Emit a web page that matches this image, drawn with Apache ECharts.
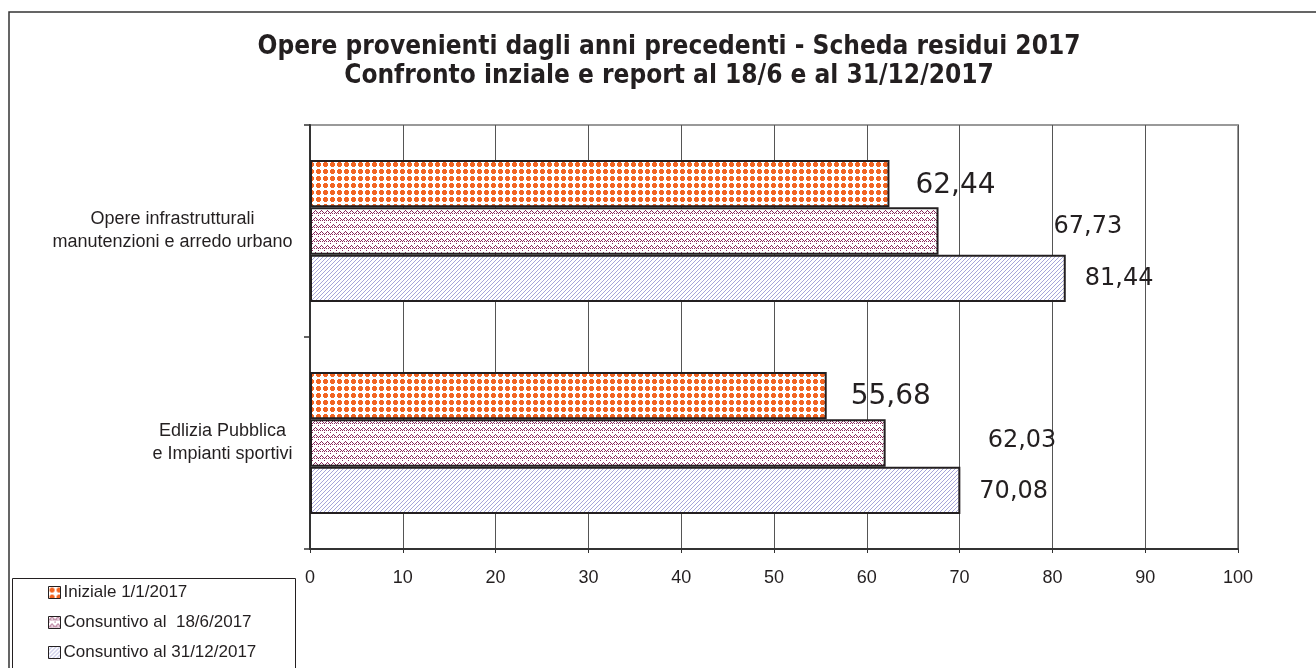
<!DOCTYPE html>
<html>
<head>
<meta charset="utf-8">
<script src="https://cdn.jsdelivr.net/npm/echarts@6/dist/echarts.min.js"></script>
<style>
  html, body { margin: 0; background: #fff; }
  #chart { width: 1316px; height: 668px; }
</style>
</head>
<body>
<div id="chart"></div>
<script>
// categories top to bottom
const categories = [
  'Opere infrastrutturali\nmanutenzioni e arredo urbano',
  'Edlizia Pubblica\ne Impianti sportivi'
]
const seriesNames = ['Iniziale 1/1/2017', 'Consuntivo al  18/6/2017', 'Consuntivo al 31/12/2017']
const iniziale = [62.44, 55.68]
const consuntivoGiugno = [67.73, 62.03]
const consuntivoDicembre = [81.44, 70.08]
const axisMin = 0
const axisMax = 100
const axisStep = 10

const ink = '#231f20'
const labelFont = 'Liberation Sans, Arial, sans-serif'

// small canvas tiles used as bar fills
const makeTile = (w, h, draw) => {
  const c = document.createElement('canvas')
  c.width = w
  c.height = h
  const g = c.getContext('2d')
  g.fillStyle = '#fff'
  g.fillRect(0, 0, w, h)
  draw(g)
  return c
}

const dots = makeTile(7, 7, g => {
  g.fillStyle = '#f26522'
  g.fillRect(2, 1, 3, 5)
  g.fillRect(1, 2, 5, 3)
})

const zigzag = makeTile(6, 7, g => {
  g.fillStyle = '#8b2a5c'
  const ys = [3, 2, 1, 0, 1, 2]
  ys.forEach((y, x) => {
    g.fillRect(x, y, 1, 1)
    if (x % 2 === 0) g.fillRect(x, y + 2, 1, 1)
  })
})

const hatch = makeTile(4, 4, g => {
  g.fillStyle = '#a6a6da'
  for (let x = 0; x < 4; x++) g.fillRect(x, 3 - x, 1, 1)
})

// width of the longest line of each category label, for centred lines in a right-aligned block
const measure = document.createElement('canvas').getContext('2d')
measure.font = '18px ' + labelFont
const labelWidths = categories.map(c =>
  Math.ceil(Math.max(...c.split('\n').map(l => measure.measureText(l).width)))
)
const rich = {}
labelWidths.forEach((w, i) => {
  rich['c' + i] = {
    width: w,
    align: 'center',
    fontSize: 18,
    lineHeight: 23,
    fontFamily: labelFont,
    color: ink
  }
})

const fmt = v => v.toFixed(2).replace('.', ',')

// label nudges per series / category
const labelPlace = [
  [{ d: 26, dy: 2 }, { d: 24, dy: 1 }],
  [{ d: 115, dy: -4 }, { d: 102, dy: -2 }],
  [{ d: 19, dy: 0 }, { d: 19, dy: 1 }]
]
const fills = [dots, zigzag, hatch]
const values = [iniziale, consuntivoGiugno, consuntivoDicembre]

const series = seriesNames.map((name, s) => ({
  name,
  type: 'bar',
  barGap: '0%',
  barCategoryGap: '33%',
  itemStyle: {
    color: { image: fills[s], repeat: 'repeat' },
    borderColor: ink,
    borderWidth: 2
  },
  label: {
    show: true,
    position: 'right',
    formatter: p => fmt(p.value),
    fontFamily: 'DejaVu Sans, Verdana, sans-serif',
    fontSize: s === 0 ? 28 : 24,
    color: ink
  },
  data: values[s].map((v, i) => ({
    value: v,
    label: { distance: labelPlace[s][i].d, offset: [0, labelPlace[s][i].dy] }
  }))
}))

const chart = echarts.init(document.getElementById('chart'))

const option = {
  animation: false,
  backgroundColor: '#fff',
  title: {
    text: 'Opere provenienti dagli anni precedenti - Scheda residui 2017\nConfronto inziale e report al 18/6 e al 31/12/2017',
    left: 669,
    top: 33,
    padding: 0,
    textAlign: 'center',
    textStyle: {
      fontFamily: 'DejaVu Sans Condensed, DejaVu Sans, sans-serif',
      fontWeight: 'bold',
      fontSize: 26,
      lineHeight: 29,
      color: ink
    }
  },
  graphic: [{
    type: 'rect',
    silent: true,
    z: -1,
    shape: { x: 9, y: 12, width: 1400, height: 700 },
    style: { fill: 'none', stroke: '#333', lineWidth: 1.5 }
  }, {
    // legend frame, runs off the bottom edge
    type: 'rect',
    silent: true,
    shape: { x: 12.5, y: 578.5, width: 283, height: 200 },
    style: { fill: 'none', stroke: ink, lineWidth: 1 }
  }],
  legend: {
    orient: 'vertical',
    left: 12,
    top: 578,
    padding: [6, 33, 0, 36],
    itemGap: 13,
    itemWidth: 12,
    itemHeight: 12,
    icon: 'rect',
    itemStyle: { borderWidth: 1 },
    textStyle: { fontFamily: labelFont, fontSize: 17, color: ink, padding: [0, 0, 0, -2] },
    data: seriesNames
  },
  grid: {
    left: 310,
    right: 78,
    top: 125,
    bottom: 119,
    show: true,
    borderColor: '#999',
    borderWidth: 2
  },
  xAxis: {
    type: 'value',
    min: axisMin,
    max: axisMax,
    interval: axisStep,
    axisLine: { show: true, lineStyle: { color: '#333', width: 2 } },
    axisTick: { show: true, length: 4, lineStyle: { color: '#333' } },
    splitLine: { show: true, lineStyle: { color: '#555', width: 1 } },
    axisLabel: { margin: 20, fontFamily: labelFont, fontSize: 18, color: ink }
  },
  yAxis: {
    type: 'category',
    inverse: true,
    data: categories,
    axisLine: { show: true, lineStyle: { color: '#333', width: 2 } },
    axisTick: { show: true, length: 6, lineStyle: { color: '#333', width: 1.5 } },
    axisLabel: {
      margin: 17,
      formatter: (v, i) => v.split('\n').map(l => `{c${i}|${l}}`).join('\n'),
      rich
    }
  },
  series
}

chart.setOption(option)
</script>
</body>
</html>
